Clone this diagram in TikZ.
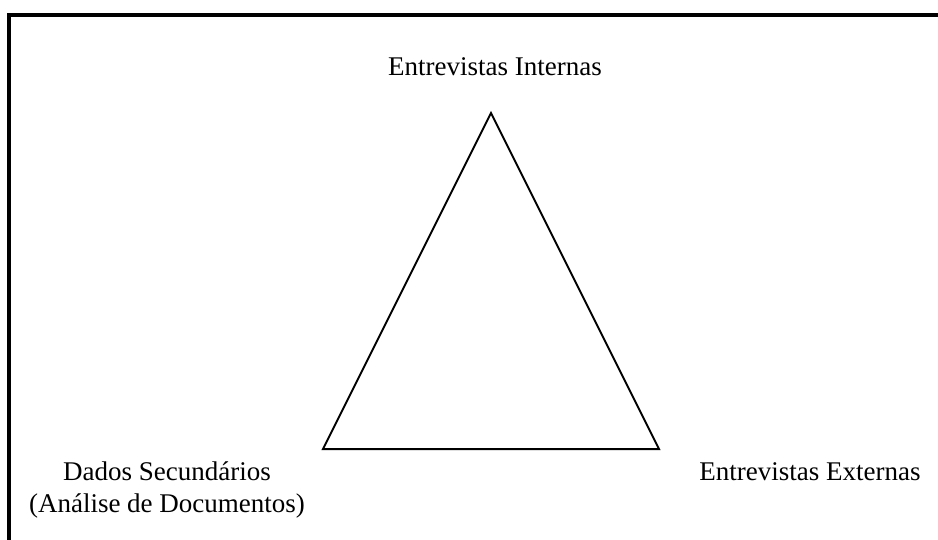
\documentclass[tikz,border=0pt]{standalone}
\usepackage{fontspec}
\setmainfont{Liberation Serif}
\begin{document}
\begin{tikzpicture}[x=1pt,y=-1pt,inner sep=0pt,
    label/.style={anchor=base,align=center,font=\fontsize{27}{32}\selectfont},
    edge/.style={draw=black,line width=2pt,line join=miter}]
        \useasboundingbox (0,0) rectangle (938,540);

        % frame
        \draw [draw=black, line width=4pt] (938,15) -- (9,15) -- (9,540);

        % corners of the triangle
        \coordinate (top) at (491,113);
        \coordinate (left) at (323,449);
        \coordinate (right) at (659,449);
        \draw [edge] (top) -- (left) -- (right) -- cycle;

        \node [label] (intern) at (495,76) {Entrevistas Internas};
        \node [label] (dados) at (167,512) {Dados Secundários\\(Análise de Documentos)};
        \node [label] (extern) at (810,480) {Entrevistas Externas};

\end{tikzpicture}
\end{document}
